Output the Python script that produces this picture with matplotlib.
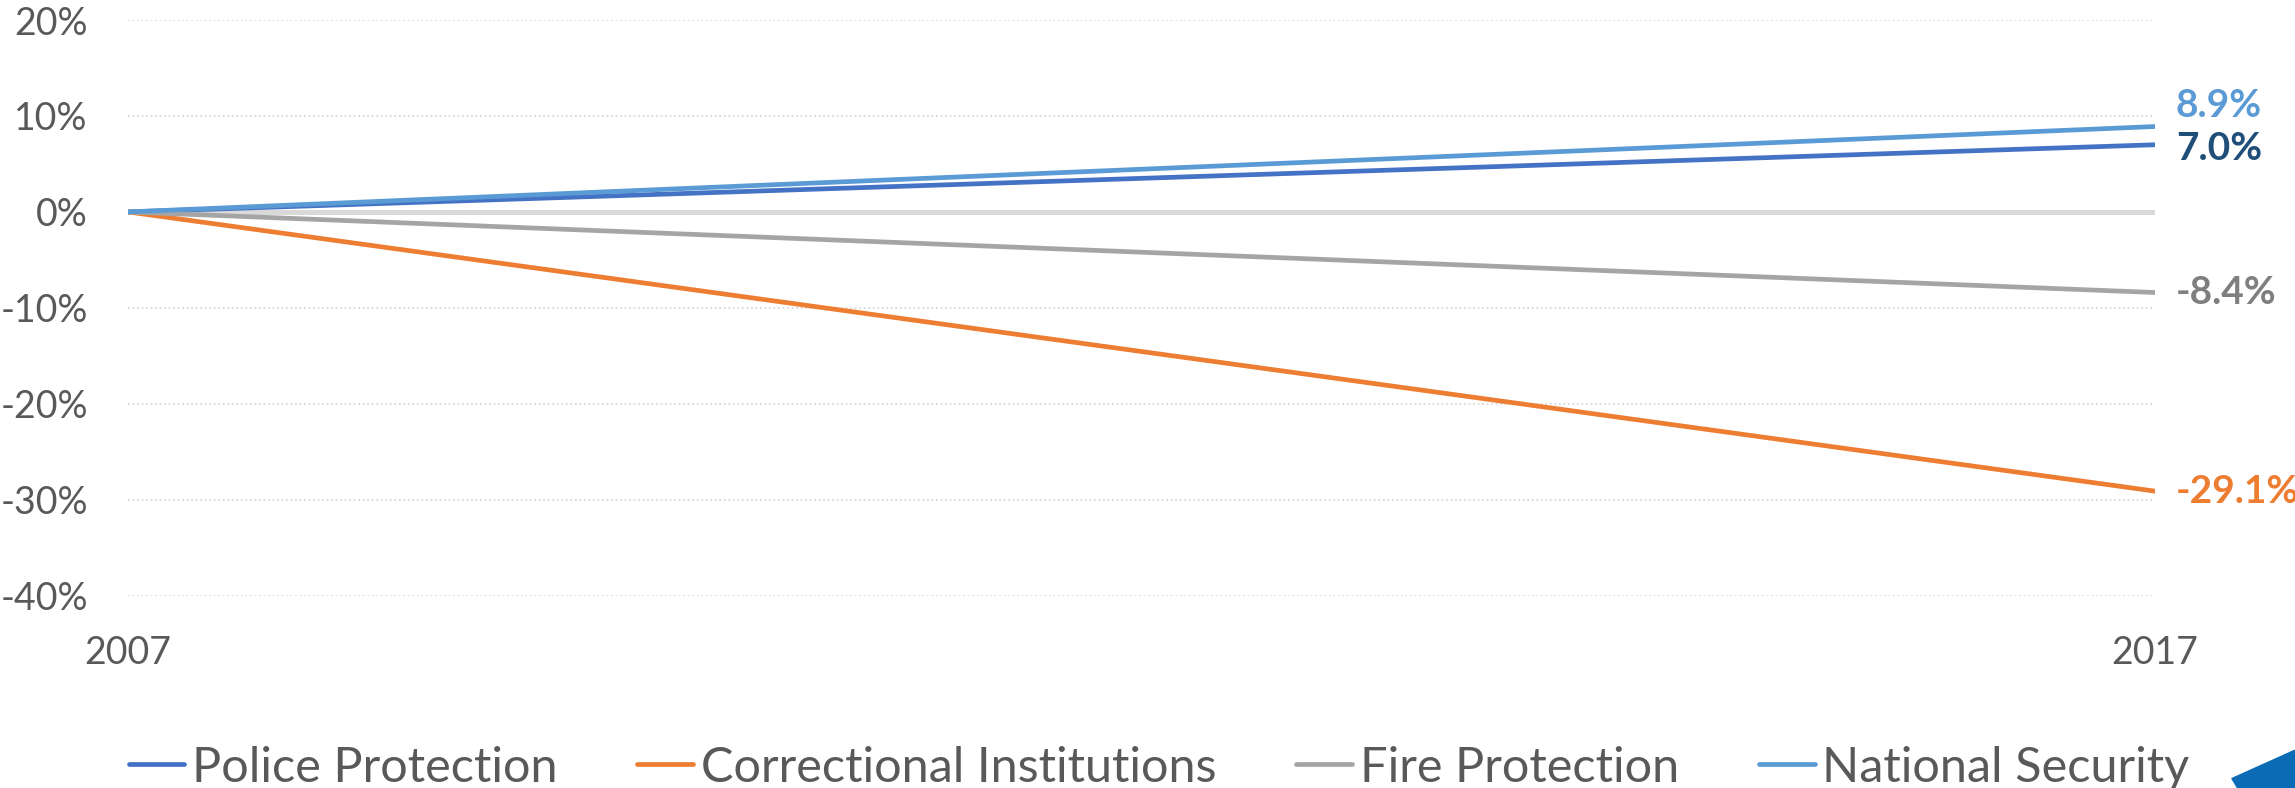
import matplotlib
matplotlib.use("Agg")
import matplotlib.pyplot as plt
from matplotlib.patches import Polygon
from matplotlib.ticker import FuncFormatter

plt.rcParams["font.family"] = ["Lato", "DejaVu Sans"]

years = [2007, 2017]
series_names = ["Police Protection", "Correctional Institutions",
                "Fire Protection", "National Security"]
police = [0.0, 7.0]
correctional = [0.0, -29.1]
fire = [0.0, -8.4]
national = [0.0, 8.9]
y_ticks = [-40, -30, -20, -10, 0, 10, 20]

line_colors = ["#4472C4", "#ED7D31", "#A5A5A5", "#5B9BD5"]
label_colors = ["#1F4E79", "#ED7D31", "#7F7F7F", "#5B9BD5"]
# vertical nudge (points) so the top two labels do not collide
label_nudge = [-3, 0, 0, 15]
text_grey = "#595959"

fig = plt.figure(figsize=(22.95, 7.88), dpi=100)
ax = fig.add_axes([0.0558, 0.244, 0.8832, 0.7306])

for v in y_ticks:
    if v != 0:
        ax.axhline(v, color="#D9D9D9", lw=1.3, ls=(0, (1, 1.5)), zorder=1)
ax.axhline(0, color="#D9D9D9", lw=3.6, zorder=2)

all_vals = [police, correctional, fire, national]
for name, vals, c in zip(series_names, all_vals, line_colors):
    ax.plot(years, vals, color=c, lw=3.4, solid_capstyle="round",
            label=name, zorder=3)

for vals, c, dy in zip(all_vals, label_colors, label_nudge):
    ax.annotate(f"{vals[-1]:.1f}%", xy=(years[-1], vals[-1]),
                xytext=(15, dy), textcoords="offset points",
                ha="left", va="center", fontsize=28, fontweight="bold",
                color=c, annotation_clip=False)

ax.set_xlim(years[0], years[-1])
ax.set_ylim(-40, 20)
ax.set_yticks(y_ticks)
ax.yaxis.set_major_formatter(FuncFormatter(lambda v, p: f"{v:.0f}%"))
ax.set_xticks(years)
ax.tick_params(axis="both", length=0, labelsize=27, labelcolor=text_grey)
ax.tick_params(axis="y", pad=29)
ax.tick_params(axis="x", pad=28)
for s in ax.spines.values():
    s.set_visible(False)

fig.legend(loc="center", bbox_to_anchor=(0.505, 0.026), ncol=4,
           frameon=False, fontsize=35, labelcolor=text_grey,
           handlelength=1.15, handletextpad=0.15, columnspacing=1.65)

# corner decoration, bottom right
fig.patches.append(Polygon([(0.9725, 0.012), (1.0, 0.048), (1.0, 0.0),
                            (0.975, 0.0)], closed=True,
                           transform=fig.transFigure, color="#0B6BB5"))

fig.savefig("out.png", dpi=100, facecolor="white")
